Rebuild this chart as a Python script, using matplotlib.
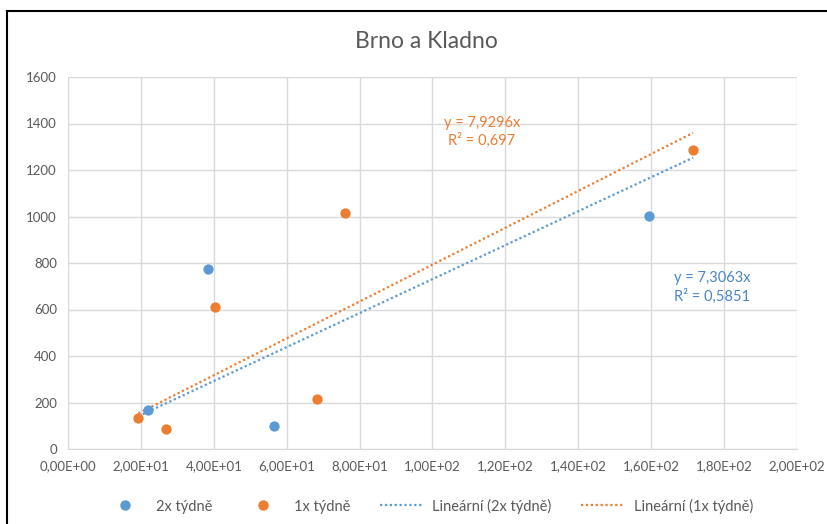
import numpy as np
import matplotlib.pyplot as plt
from matplotlib.lines import Line2D

plt.rcParams['font.family'] = ['Lato', 'DejaVu Sans']

# --- data ---
x_2x = [22.0, 38.5, 56.5, 159.5]
y_2x = [168, 776, 100, 1003]
x_1x = [19.3, 27.0, 40.4, 68.4, 76.0, 171.5]
y_1x = [135, 86, 609, 215, 1014, 1284]

slope_2x, r2_2x = 7.3063, 0.5851
slope_1x, r2_1x = 7.9296, 0.697

modra = '#5B9BD5'
oranzova = '#ED7D31'
seda = '#595959'

fig = plt.figure(figsize=(8.28, 5.24), dpi=100)
ax = fig.add_axes([68 / 828, 1 - 449 / 524, (797 - 68) / 828, (449 - 77) / 524])

# lineární trend přes počátek
xt = np.array([min(x_1x + x_2x), max(x_1x + x_2x)])
ax.plot(xt, slope_2x * xt, color=modra, lw=1.6, ls=(0, (1, 1.2)), zorder=2)
ax.plot(xt, slope_1x * xt, color=oranzova, lw=1.6, ls=(0, (1, 1.2)), zorder=2)

ax.scatter(x_2x, y_2x, s=55, color=modra, zorder=3, linewidths=0)
ax.scatter(x_1x, y_1x, s=55, color=oranzova, zorder=3, linewidths=0)

ax.set_xlim(0, 200)
ax.set_ylim(0, 1600)
ax.set_xticks(np.arange(0, 201, 20))
ax.set_yticks(np.arange(0, 1601, 200))
ax.set_xticklabels([('%.2E' % v).replace('.', ',') for v in np.arange(0, 201, 20)])
ax.grid(True, color='#d9d9d9', lw=1)
ax.set_axisbelow(True)
for s in ['top', 'right', 'left']:
    ax.spines[s].set_visible(False)
ax.spines['bottom'].set_color('#d9d9d9')
ax.tick_params(length=0, colors=seda, labelsize=9.5, pad=8)

def popisek(k, r2):
    return 'y = %sx\nR² = %s' % (str(k).replace('.', ','), str(r2).replace('.', ','))

ax.text(113.5, 1365, popisek(slope_1x, r2_1x),
        color=oranzova, fontsize=10.5, ha='center', va='center', linespacing=1.25)
ax.text(166.3, 695, popisek(slope_2x, r2_2x),
        color='#4A86C5', fontsize=10.5, ha='left', va='center', linespacing=1.25)

fig.text(0.515, 1 - 42 / 524, 'Brno a Kladno', ha='center', va='center', fontsize=16.5, color=seda)

handles = [
    Line2D([], [], ls='none', marker='o', ms=7.5, color=modra, mec='none'),
    Line2D([], [], ls='none', marker='o', ms=7.5, color=oranzova, mec='none'),
    Line2D([], [], color=modra, lw=1.6, ls=(0, (1, 1.2))),
    Line2D([], [], color=oranzova, lw=1.6, ls=(0, (1, 1.2))),
]
labels = ['2x týdně', '1x týdně', 'Lineární (2x týdně)', 'Lineární (1x týdně)']
fig.legend(handles, labels, loc='center', bbox_to_anchor=(428 / 828, 1 - 506 / 524), ncol=4,
           frameon=False, fontsize=10.5, labelcolor=seda, handlelength=3.0,
           handletextpad=0.62, columnspacing=2.0)

# rámeček grafu
fig.add_artist(Line2D([7.5 / 828, 1], [1 - 10.5 / 524] * 2, color='black', lw=1.5))
fig.add_artist(Line2D([7.5 / 828] * 2, [0, 1 - 10.5 / 524], color='black', lw=1.5))

fig.savefig('out.png', dpi=100)
